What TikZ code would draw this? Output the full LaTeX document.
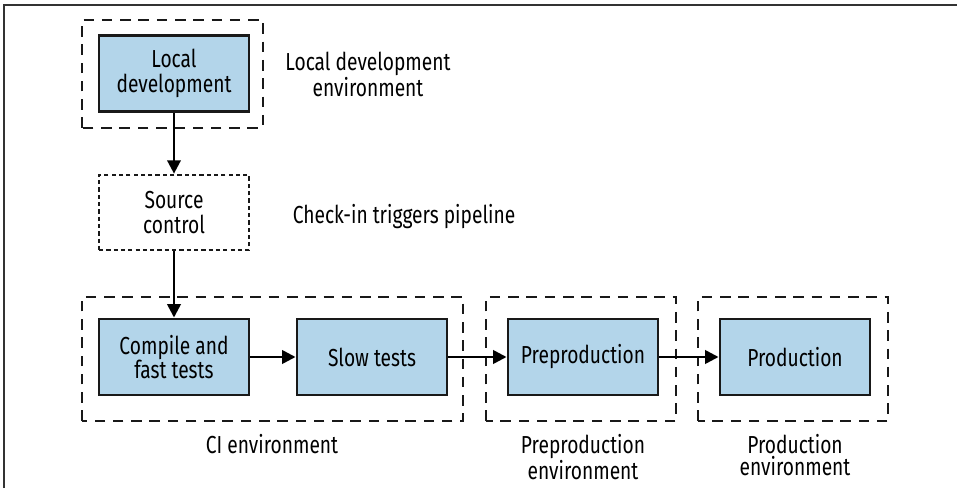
\documentclass[tikz,border=0pt]{standalone}
\usepackage{fontspec}
\setmainfont{Fira Sans}[FakeStretch=0.78]
\usepackage{xcolor}
\usepackage{tikz}
\usetikzlibrary{arrows.meta}

\definecolor{stageblue}{HTML}{B3D5EA}

\begin{document}
\begin{tikzpicture}[font=\fontsize{17.5}{17.5}\selectfont,
  stage/.style={draw=black!90, fill=stageblue, line width=2.1pt,
    minimum width=3.75cm, minimum height=1.9cm, align=center, inner sep=0pt},
  envbox/.style={draw=black!90, line width=2pt, dash pattern=on 7.5pt off 5.5pt},
  envlabel/.style={anchor=north, align=center, inner sep=0pt,
    font=\fontsize{17.5}{16}\selectfont},
  flow/.style={-{Triangle[length=9.5pt, width=9.5pt]}, line width=1.8pt}]

\useasboundingbox (0,0) rectangle (23.925,12.2);

%% ─── Page frame ─────────────────────────────────────────────
\draw[black!80, line width=1.4pt] (0.1,0) -- (0.1,12.075) -- (23.925,12.075);

%% ─── Local development environment ─────────────────────────
\draw[envbox] (2.05,9.0) rectangle (6.575,11.7);
\node[stage] (local) at (4.35,10.3625) {Local\\development};
\node[envlabel] (locallbl) at (9.2,10.9) {Local development\\environment};

%% ─── Source control ─────────────────────────────────────────
\node[draw=black!90, line width=1.9pt, dash pattern=on 3pt off 2.2pt,
  minimum width=3.75cm, minimum height=1.875cm, align=center, inner sep=0pt]
  (src) at (4.35,6.8875) {Source\\control};
\node[envlabel] (srclbl) at (10.1,7.1) {Check-in triggers pipeline};

%% ─── CI environment ─────────────────────────────────────────
\draw[envbox] (2.05,1.675) rectangle (11.575,4.775);
\node[stage] (compile) at (4.35,3.275) {Compile and\\fast tests};
\node[stage] (slow) at (9.3,3.275) {Slow tests};
\node[envlabel] (cilbl) at (6.8,1.35) {CI environment};

%% ─── Preproduction environment ──────────────────────────────
\draw[envbox] (12.15,1.675) rectangle (16.9,4.775);
\node[stage] (preprod) at (14.575,3.275) {Preproduction};
\node[envlabel] (preprodlbl) at (14.575,1.35) {Preproduction\\environment};

%% ─── Production environment ─────────────────────────────────
\draw[envbox] (17.45,1.675) rectangle (22.2,4.775);
\node[stage] (prod) at (19.875,3.275) {Production};
\node[envlabel] (prodlbl) at (19.875,1.35) {Production\\environment};

%% ─── Pipeline arrows ────────────────────────────────────────
\draw[flow] (local) -- (src);
\draw[flow] (src) -- (compile);
\draw[flow] (compile) -- (slow);
\draw[flow] (slow) -- (preprod);
\draw[flow] (preprod) -- (prod);

\end{tikzpicture}
\end{document}
